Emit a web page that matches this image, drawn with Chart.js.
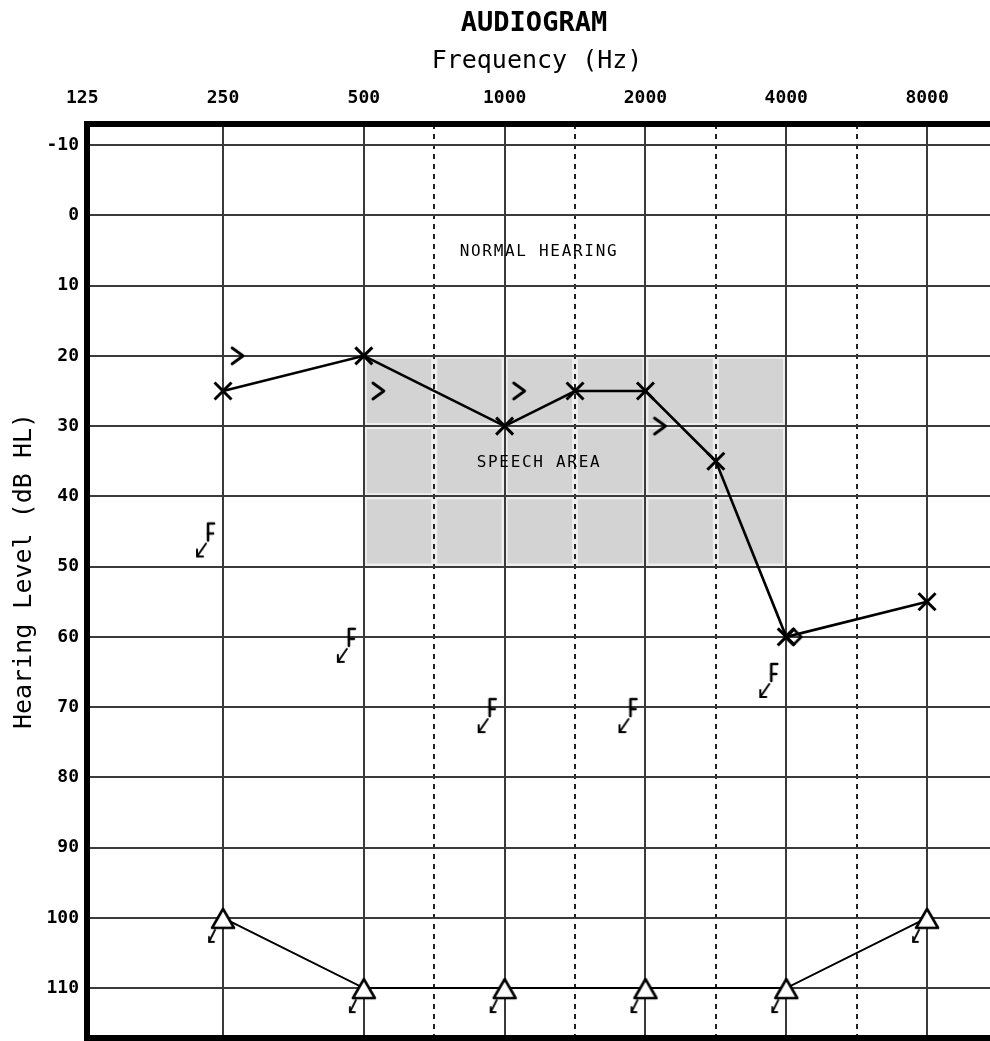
<!DOCTYPE html>
<html>
<head>
<meta charset="utf-8">
<script src="https://cdn.jsdelivr.net/npm/chart.js@4.4.0/dist/chart.umd.min.js"></script>
<style>
  html, body { margin: 0; padding: 0; background: #ffffff; }
  #wrap { width: 990px; height: 1041px; }
</style>
</head>
<body>
<div id="wrap"><canvas id="c" width="990" height="1041"></canvas></div>
<script>
// ---- data ----
const freqTickLabels = [125, 250, 500, 1000, 2000, 4000, 8000];
const octaveFreqs = [250, 500, 1000, 2000, 4000, 8000];
const interOctaveFreqs = [750, 1500, 3000, 6000];
const dbTicks = [-10, 0, 10, 20, 30, 40, 50, 60, 70, 80, 90, 100, 110];

const airFreqs = [250, 500, 1000, 1500, 2000, 3000, 4000, 8000];
const airLevels = [25, 20, 30, 25, 25, 35, 60, 55];

const boneFreqs = [250, 500, 1000, 2000];
const boneLevels = [20, 25, 25, 30];

const maskedBoneFreqs = [250, 500, 1000, 2000, 4000];
const maskedBoneLevels = [45, 60, 70, 70, 65];

const maskedAirFreqs = [250, 500, 1000, 2000, 4000, 8000];
const maskedAirLevels = [100, 110, 110, 110, 110, 100];

const otherEarFreqs = [4000];
const otherEarLevels = [60];

const speechAreaFreqs = [500, 4000];
const speechAreaLevels = [20, 50];

const titleText = 'AUDIOGRAM';
const xTitleText = 'Frequency (Hz)';
const yTitleText = 'Hearing Level (dB HL)';
const normalText = 'NORMAL HEARING';
const speechText = 'SPEECH AREA';

const MONO = '"DejaVu Sans Mono", "Liberation Mono", monospace';

// Audiogram convention: octaves are evenly spaced from 125 Hz, and the
// mid-octave frequencies (750, 1500, 3000, 6000) sit half-way between them.
function audioPos(f) {
  const b = Math.log2(f / 125);
  const r = Math.round(b);
  if (Math.abs(b - r) < 1e-6) return r;
  return Math.floor(b) + 0.5;
}
function pts(xs, ys) { return xs.map((x, i) => ({ x: audioPos(x), y: ys[i] })); }

// ---- glyphs ----
function glyph(size, draw) {
  const cv = document.createElement('canvas');
  cv.width = size; cv.height = size;
  const g = cv.getContext('2d');
  g.translate(size / 2, size / 2);
  g.strokeStyle = '#000';
  g.lineCap = 'round';
  g.lineJoin = 'round';
  draw(g);
  return cv;
}
function line(g, pts) {
  g.beginPath();
  g.moveTo(pts[0][0], pts[0][1]);
  for (let i = 1; i < pts.length; i++) g.lineTo(pts[i][0], pts[i][1]);
  g.stroke();
}
const chevronGlyph = glyph(60, g => {
  g.lineWidth = 2.8;
  line(g, [[9, -8], [20, 0], [9, 8]]);
});
const bracketArrowGlyph = glyph(70, g => {
  g.lineWidth = 2.6;
  line(g, [[-9, -8], [-15, -8], [-15, 9]]);
  line(g, [[-15, 2], [-10, 2]]);
  g.lineWidth = 2;
  line(g, [[-17, 12], [-26, 25]]);
  line(g, [[-26, 18], [-26, 25], [-20, 25]]);
});
const triangleGlyph = glyph(60, g => {
  g.lineWidth = 2.6;
  g.beginPath();
  g.moveTo(0, -9); g.lineTo(11, 10); g.lineTo(-11, 10); g.closePath();
  g.fillStyle = '#fff';
  g.fill();
  g.stroke();
  g.lineWidth = 1.8;
  line(g, [[-8, 12], [-14, 24]]);
  line(g, [[-14, 19], [-14, 24], [-9, 24]]);
});
const diamondGlyph = glyph(50, g => {
  g.lineWidth = 2.6;
  g.beginPath();
  g.moveTo(7, -8); g.lineTo(15, 0); g.lineTo(7, 8); g.lineTo(-1, 0); g.closePath();
  g.stroke();
});

// ---- plugins ----
const backgroundPlugin = {
  id: 'bg',
  beforeDraw(chart) {
    const { ctx, scales } = chart;
    const x = scales.x, y = scales.y;
    ctx.save();
    ctx.fillStyle = '#ffffff';
    ctx.fillRect(0, 0, chart.width, chart.height);
    const x1 = x.getPixelForValue(audioPos(speechAreaFreqs[0]));
    const x2 = x.getPixelForValue(audioPos(speechAreaFreqs[1]));
    const y1 = y.getPixelForValue(speechAreaLevels[0]);
    const y2 = y.getPixelForValue(speechAreaLevels[1]);
    ctx.fillStyle = '#d3d3d3';
    ctx.fillRect(x1, y1, x2 - x1 - 3, y2 - y1);
    // light halos around the grid lines inside the speech area
    ctx.beginPath();
    ctx.rect(x1, y1, x2 - x1, y2 - y1);
    ctx.clip();
    ctx.strokeStyle = '#eeeeee';
    ctx.lineWidth = 6;
    dbTicks.forEach(v => {
      const py = y.getPixelForValue(v);
      ctx.beginPath(); ctx.moveTo(x1, py); ctx.lineTo(x2, py); ctx.stroke();
    });
    octaveFreqs.concat(interOctaveFreqs).forEach(f => {
      const px = x.getPixelForValue(audioPos(f));
      ctx.beginPath(); ctx.moveTo(px, y1); ctx.lineTo(px, y2); ctx.stroke();
    });
    ctx.restore();
  },
  afterDraw(chart) {
    const { ctx, scales } = chart;
    const x = scales.x;
    ctx.save();
    ctx.fillStyle = '#000';
    ctx.textAlign = 'center';
    ctx.textBaseline = 'middle';
    ctx.font = 'bold 27px ' + MONO;
    ctx.fillText(titleText, 534, 24);
    ctx.font = '25px ' + MONO;
    ctx.fillText(xTitleText, 537, 61);
    ctx.font = 'bold 18px ' + MONO;
    freqTickLabels.forEach(f => {
      ctx.fillText(String(f), x.getPixelForValue(audioPos(f)), 98);
    });
    ctx.save();
    ctx.translate(24, 571);
    ctx.rotate(-Math.PI / 2);
    ctx.font = '25px ' + MONO;
    ctx.fillText(yTitleText, 0, 0);
    ctx.restore();
    ctx.font = '16px ' + MONO;
    try { ctx.letterSpacing = '1.7px'; } catch (e) {}
    ctx.fillText(normalText, 539, 252);
    ctx.fillText(speechText, 539, 463);
    ctx.restore();
  }
};

const X_MIN = 0.034, X_MAX = 6.447;
const GRID = '#3a3a3a';

new Chart(document.getElementById('c'), {
  type: 'line',
  data: {
    datasets: [
      {
        label: 'Other ear',
        data: pts(otherEarFreqs, otherEarLevels),
        showLine: false,
        pointStyle: diamondGlyph,
        pointRadius: 10,
        xAxisID: 'x', yAxisID: 'y'
      },
      {
        label: 'Air conduction',
        data: pts(airFreqs, airLevels),
        borderColor: '#000',
        borderWidth: 2.6,
        tension: 0,
        pointStyle: 'crossRot',
        pointRadius: 12,
        pointBorderWidth: 3,
        pointBorderColor: '#000',
        xAxisID: 'x', yAxisID: 'y'
      },
      {
        label: 'Bone conduction',
        data: pts(boneFreqs, boneLevels),
        showLine: false,
        pointStyle: chevronGlyph,
        pointRadius: 10,
        xAxisID: 'x', yAxisID: 'y'
      },
      {
        label: 'Masked bone conduction (no response)',
        data: pts(maskedBoneFreqs, maskedBoneLevels),
        showLine: false,
        pointStyle: bracketArrowGlyph,
        pointRadius: 10,
        xAxisID: 'x', yAxisID: 'y'
      },
      {
        label: 'Masked air conduction (no response)',
        data: pts(maskedAirFreqs, maskedAirLevels),
        borderColor: '#000',
        borderWidth: 2,
        tension: 0,
        pointStyle: triangleGlyph,
        pointRadius: 10,
        xAxisID: 'x', yAxisID: 'y'
      }
    ]
  },
  options: {
    responsive: false,
    animation: false,
    devicePixelRatio: 1,
    layout: { padding: 0, autoPadding: false },
    plugins: {
      legend: { display: false },
      tooltip: { enabled: false },
      title: { display: false }
    },
    scales: {
      x: {
        type: 'linear',
        position: 'top',
        min: X_MIN, max: X_MAX,
        afterBuildTicks: s => { s.ticks = octaveFreqs.map(f => ({ value: audioPos(f) })); },
        afterFit: s => { s.height = 124; s.paddingLeft = 0; s.paddingRight = 0; },
        ticks: { display: false },
        grid: { color: GRID, lineWidth: 2, drawTicks: false },
        border: { display: true, color: '#000', width: 6 }
      },
      xd: {
        type: 'linear',
        position: 'top',
        min: X_MIN, max: X_MAX,
        afterBuildTicks: s => { s.ticks = interOctaveFreqs.map(f => ({ value: audioPos(f) })); },
        afterFit: s => { s.height = 0; s.paddingLeft = 0; s.paddingRight = 0; },
        ticks: { display: false },
        grid: { color: '#222', lineWidth: 2, drawTicks: false, borderDash: [5, 5] },
        border: { display: false, dash: [5, 5] }
      },
      xb: {
        type: 'linear',
        position: 'bottom',
        min: X_MIN, max: X_MAX,
        afterFit: s => { s.height = 3; s.paddingLeft = 0; s.paddingRight = 0; },
        ticks: { display: false },
        grid: { display: false, drawTicks: false },
        border: { display: true, color: '#000', width: 6 }
      },
      y: {
        type: 'linear',
        reverse: true,
        min: -13, max: 117.1,
        afterBuildTicks: s => { s.ticks = dbTicks.map(v => ({ value: v })); },
        afterFit: s => { s.width = 87; s.paddingTop = 0; s.paddingBottom = 0; },
        ticks: {
          color: '#000',
          padding: 8,
          font: { family: MONO, size: 18, weight: 'bold' }
        },
        grid: { color: GRID, lineWidth: 2, drawTicks: false },
        border: { display: true, color: '#000', width: 6 }
      }
    }
  },
  plugins: [backgroundPlugin]
});
</script>
</body>
</html>
